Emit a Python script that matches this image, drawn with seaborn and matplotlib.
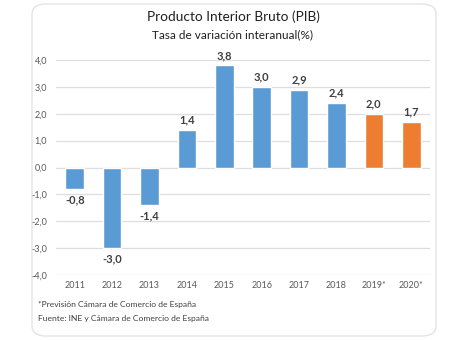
import matplotlib
matplotlib.use("Agg")
import matplotlib.pyplot as plt
from matplotlib.patches import FancyBboxPatch
import seaborn as sns
import pandas as pd

years = ["2011", "2012", "2013", "2014", "2015", "2016", "2017", "2018", "2019*", "2020*"]
values = [-0.8, -3.0, -1.4, 1.4, 3.8, 3.0, 2.9, 2.4, 2.0, 1.7]
kinds = ["real"] * 8 + ["previsión"] * 2
yticks = [-4, -3, -2, -1, 0, 1, 2, 3, 4]

sns.set_theme(style="white")
plt.rcParams["font.family"] = ["Lato", "DejaVu Sans"]

df = pd.DataFrame({"year": years, "value": values, "kind": kinds})
palette = {"real": "#5B9BD5", "previsión": "#ED7D31"}

fig = plt.figure(figsize=(4.6, 3.4), dpi=100)
card = FancyBboxPatch((32 / 460, 4 / 340), 404 / 460, 332 / 340,
                      boxstyle="round,pad=0,rounding_size=0.03",
                      transform=fig.transFigure, facecolor="white",
                      edgecolor="#E4E4E4", linewidth=1.0, zorder=0)
fig.patches.append(card)

ax = fig.add_axes([56 / 460, 1 - 275 / 340, 374 / 460, 215 / 340])
ax.set_zorder(2)
ax.set_facecolor("none")
sns.barplot(data=df, x="year", y="value", hue="kind", palette=palette,
            dodge=False, width=0.5, saturation=1, legend=False, ax=ax, zorder=3)

ax.set_ylim(-4, 4)
ax.set_xlim(-0.5, len(years) - 0.5)
ax.set_yticks(yticks)
ax.set_yticklabels([f"{t:.1f}".replace(".", ",") for t in yticks])
ax.yaxis.grid(True, color="#DEDEDE", linewidth=0.9, zorder=0)
ax.set_axisbelow(True)
for s in ax.spines.values():
    s.set_visible(False)
ax.tick_params(axis="both", length=0, labelsize=6.5, colors="#595959")
ax.tick_params(axis="y", pad=6.5)
ax.tick_params(axis="x", pad=4)
ax.set_xlabel("")
ax.set_ylabel("")

for i, v in enumerate(values):
    txt = f"{v:.1f}".replace(".", ",")
    if v >= 0:
        ax.annotate(txt, (i, v), xytext=(0, 3), textcoords="offset points",
                    ha="center", va="bottom", fontsize=8, fontweight="bold",
                    color="#404040")
    else:
        ax.annotate(txt, (i, v), xytext=(0, -4), textcoords="offset points",
                    ha="center", va="top", fontsize=8, fontweight="bold",
                    color="#404040")

fig.text(233 / 460, 1 - 17 / 340, "Producto Interior Bruto (PIB)",
         ha="center", va="center", fontsize=9.8, color="#1f1f1f")
fig.text(233 / 460, 1 - 35 / 340, "Tasa de variación interanual(%)",
         ha="center", va="center", fontsize=8.5, color="#1f1f1f")
fig.text(38 / 460, 1 - 305 / 340, "*Previsión Cámara de Comercio de España",
         ha="left", va="center", fontsize=6.1, color="#404040")
fig.text(38 / 460, 1 - 319 / 340, "Fuente: INE y Cámara de Comercio de España",
         ha="left", va="center", fontsize=6.1, color="#404040")

fig.savefig("out.png", dpi=100, facecolor="white")
